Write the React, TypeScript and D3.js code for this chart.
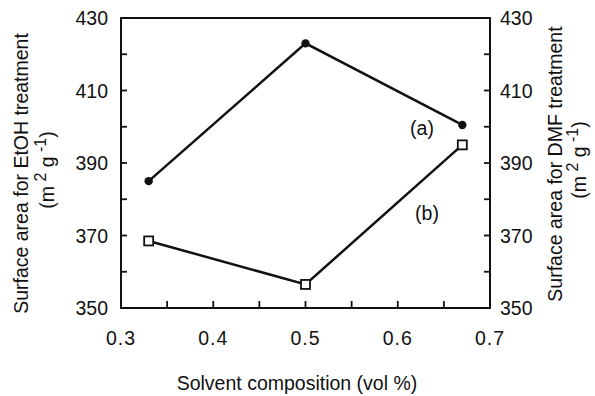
import React from "react";
import * as d3 from "d3";

const xA = [0.33, 0.5, 0.67];
const yA = [385, 423, 400.5];
const xB = [0.33, 0.5, 0.67];
const yB = [368.5, 356.5, 395];
const xTicks = [0.3, 0.4, 0.5, 0.6, 0.7];
const xMinorTicks = [0.35, 0.4, 0.45, 0.5, 0.55, 0.6, 0.65];
const yTicks = [350, 370, 390, 410, 430];
const yMinorTicks = [360, 370, 380, 390, 400, 410, 420];
const labelA = "(a)";
const labelB = "(b)";
const xTitle = "Solvent composition (vol %)";
const yLeftTitle = "Surface area for EtOH treatment";
const yRightTitle = "Surface area for DMF treatment";

const W = 595, H = 396;
const L = 121, R = 490, T = 18, B = 308;
const FONT = "'Liberation Sans', Arial, Helvetica, sans-serif";

export default function App() {
  const x = d3.scaleLinear().domain([0.3, 0.7]).range([L, R]);
  const y = d3.scaleLinear().domain([350, 430]).range([B, T]);
  const line = d3.line<[number, number]>().x(d => x(d[0])).y(d => y(d[1]));
  const ptsA: [number, number][] = xA.map((v, i) => [v, yA[i]]);
  const ptsB: [number, number][] = xB.map((v, i) => [v, yB[i]]);
  const fs = 19.5;

  const unitLine = (bx: number, cy: number) => (
    <text transform={`translate(${bx},${cy}) rotate(-90)`} textAnchor="middle" fontSize={fs} fontFamily={FONT} fill="#111">
      <tspan>(m</tspan>
      <tspan dy={-8} fontSize={16}> 2</tspan>
      <tspan dy={8}> g</tspan>
      <tspan dy={-8} fontSize={16}> -1</tspan>
      <tspan dy={8}>)</tspan>
    </text>
  );

  return (
    <svg width={W} height={H} style={{ position: "absolute", left: 0, top: 0, background: "#fff" }}>
      <rect x={0} y={0} width={W} height={H} fill="#fff" />
      {/* frame */}
      <rect x={L} y={T} width={R - L} height={B - T} fill="none" stroke="#111" strokeWidth={2} />
      {/* bottom ticks */}
      {xMinorTicks.map(t => (
        <line key={"xm" + t} x1={x(t)} x2={x(t)} y1={B} y2={B - 7} stroke="#111" strokeWidth={1.8} />
      ))}
      {/* y ticks */}
      {yMinorTicks.map(t => (
        <g key={"ym" + t}>
          <line x1={L} x2={L + 6} y1={y(t)} y2={y(t)} stroke="#111" strokeWidth={1.8} />
          <line x1={R} x2={R - 6} y1={y(t)} y2={y(t)} stroke="#111" strokeWidth={1.8} />
        </g>
      ))}
      {/* tick labels */}
      {xTicks.map(t => (
        <text key={"xl" + t} x={x(t)} y={345} textAnchor="middle" fontSize={fs} fontFamily={FONT} fill="#111" letterSpacing={1}>
          {d3.format(".1f")(t)}
        </text>
      ))}
      {yTicks.map(t => (
        <g key={"yl" + t}>
          <text x={108} y={y(t) + 7} textAnchor="end" fontSize={fs} fontFamily={FONT} fill="#111">{t}</text>
          <text x={500} y={y(t) + 7} textAnchor="start" fontSize={fs} fontFamily={FONT} fill="#111">{t}</text>
        </g>
      ))}
      {/* series */}
      <path d={line(ptsA) || ""} fill="none" stroke="#111" strokeWidth={2.5} />
      <path d={line(ptsB) || ""} fill="none" stroke="#111" strokeWidth={2.5} />
      {ptsA.map((p, i) => (
        <circle key={"a" + i} cx={x(p[0])} cy={y(p[1])} r={4.2} fill="#111" />
      ))}
      {ptsB.map((p, i) => (
        <rect key={"b" + i} x={x(p[0]) - 4.5} y={y(p[1]) - 4.5} width={9} height={9} fill="#fff" stroke="#111" strokeWidth={1.8} />
      ))}
      <text x={422} y={135} textAnchor="middle" fontSize={fs} fontFamily={FONT} fill="#111">{labelA}</text>
      <text x={427} y={220} textAnchor="middle" fontSize={fs} fontFamily={FONT} fill="#111">{labelB}</text>
      {/* titles */}
      <text x={297} y={390} textAnchor="middle" fontSize={fs} fontFamily={FONT} fill="#111">{xTitle}</text>
      <text transform={`translate(28,173.5) rotate(-90)`} textAnchor="middle" fontSize={fs} fontFamily={FONT} fill="#111">{yLeftTitle}</text>
      {unitLine(54, 170)}
      <text transform={`translate(562,164) rotate(-90)`} textAnchor="middle" fontSize={fs} fontFamily={FONT} fill="#111">{yRightTitle}</text>
      {unitLine(586, 160)}
    </svg>
  );
}
